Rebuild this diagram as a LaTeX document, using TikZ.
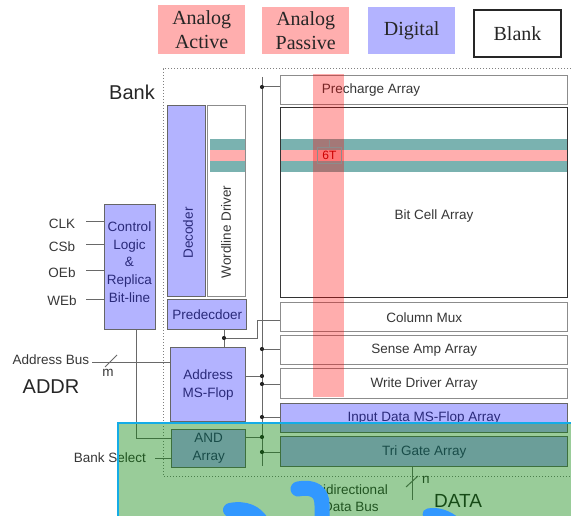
\documentclass[tikz,border=0pt]{standalone}
\usepackage{fontspec}
\setmainfont{Liberation Sans}
\newfontfamily\legfont{Liberation Serif}
\definecolor{lav}{RGB}{179,179,255}
\definecolor{pinkc}{RGB}{255,174,174}
\definecolor{tealc}{RGB}{122,178,176}
\definecolor{navy}{RGB}{42,42,122}
\definecolor{txt}{RGB}{55,55,55}
\definecolor{wirec}{RGB}{105,105,105}
\definecolor{cyanb}{RGB}{20,172,230}
\definecolor{blobc}{RGB}{50,152,255}
\tikzset{
  box/.style={draw=black!45, line width=1.4pt, fill=white, inner sep=0pt, anchor=north west,
    font=\fontsize{13.5}{16}\selectfont, text=txt},
  dig/.style={box, fill=lav, draw=black!60, text=navy},
  legbox/.style={inner sep=0pt, anchor=north west, align=center,
    font=\legfont\fontsize{20}{23.5}\selectfont, text=black!85},
  wire/.style={draw=wirec, line width=1pt},
  jdot/.style={circle, fill=black!85, inner sep=0pt, minimum size=4.2pt},
  lbl/.style={font=\fontsize{13.5}{16}\selectfont, text=txt, inner sep=0pt},
  big/.style={font=\fontsize{20}{24}\selectfont, text=black!85, inner sep=0pt},
  brush/.style={draw=blobc, line cap=round, line join=round}
}
\begin{document}
\begin{tikzpicture}[x=1pt,y=-1pt]
\useasboundingbox (0,0) rectangle (571,516);

% legend
\node[legbox, fill=pinkc, minimum width=87pt, minimum height=49pt] (lgA) at (158,5) {Analog\\Active};
\node[legbox, fill=pinkc, minimum width=87pt, minimum height=47pt] (lgP) at (262,7) {Analog\\Passive};
\node[legbox, fill=lav, minimum width=87pt, minimum height=47pt] (lgD) at (368,7) {Digital};
\node[legbox, fill=white, draw=black!85, line width=2pt, minimum width=87pt, minimum height=47pt] (lgB) at (473,9) {Blank};

% bank outline
\draw[black!50, line width=1pt, dotted] (571,69) -- (163,69) -- (163,476) -- (571,476);
\node[big] (bank) at (132,92) {Bank};

% column-side arrays
\node[box, minimum width=287pt, minimum height=29pt] (pre) at (280,75) {};
\node[lbl] (pretxt) at (371,90) {Precharge Array};
\node[box, draw=black!80, minimum width=287pt, minimum height=190pt] (bca) at (280,107) {};
\node[lbl] (bcatxt) at (434,216) {Bit Cell Array};
\node[box, minimum width=287pt, minimum height=29pt] (cmux) at (280,302) {Column Mux};
\node[box, minimum width=287pt, minimum height=29pt] (samp) at (280,335) {Sense Amp Array};
\node[box, minimum width=287pt, minimum height=30pt] (wdrv) at (280,368) {Write Driver Array};
\node[dig, minimum width=287pt, minimum height=29pt] (idff) at (280,403) {Input Data MS-Flop Array};
\node[dig, minimum width=287pt, minimum height=30pt] (tri) at (280,436) {Tri Gate Array};

% row-side blocks
\node[dig, minimum width=38pt, minimum height=191pt] (dec) at (167,105) {};
\node[lbl, text=navy, rotate=90] (dectxt) at (188,233) {Decoder};
\node[box, minimum width=38pt, minimum height=191pt] (wld) at (207,105) {};
\node[dig, minimum width=79pt, minimum height=30pt] (pred) at (167,299) {Predecdoer};
\node[dig, align=center, minimum width=51pt, minimum height=125pt,
  font=\fontsize{13.5}{17.7}\selectfont] (ctrl) at (104,204) {};
\node[lbl, text=navy, align=center, font=\fontsize{13.5}{17.7}\selectfont] (ctrltxt) at (129.5,262)
  {Control\\Logic\\\&\\Replica\\Bit-line};
\node[dig, align=center, minimum width=75pt, minimum height=74pt,
  font=\fontsize{13.5}{18}\selectfont] (amsf) at (170,347) {Address\\MS-Flop};
\node[dig, align=center, minimum width=74pt, minimum height=38pt,
  font=\fontsize{13.5}{18}\selectfont] (andA) at (171,429) {AND\\Array};

% word line stripes
\fill[tealc] (210,139) rectangle (245,150);
\fill[pinkc] (210,150) rectangle (245,161);
\fill[tealc] (210,161) rectangle (245,172);
\fill[tealc] (281,139) rectangle (567,150);
\fill[pinkc] (281,150) rectangle (567,161);
\fill[tealc] (281,161) rectangle (567,172);
\node[lbl, rotate=90] (wldtxt) at (226,232) {Wordline Driver};

% bit line column
\fill[red, opacity=0.32] (313,74) rectangle (344,397);
\draw[black!45, line width=0.6pt] (329,140) -- (329,147);
\node[draw=black!45, line width=0.8pt, inner sep=0pt, minimum width=24pt, minimum height=16pt,
  anchor=north west, text=red!80!black, font=\fontsize{12}{14}\selectfont] (six) at (317,147) {6T};

% inputs of the control block
\node[lbl] (clk) at (62,224) {CLK};
\node[lbl] (csb) at (62,247) {CSb};
\node[lbl] (oeb) at (62,273) {OEb};
\node[lbl] (web) at (62,301) {WEb};
\coordinate (iclk) at (86,222);
\coordinate (icsb) at (86,245);
\coordinate (ioeb) at (86,271);
\coordinate (iweb) at (86,299);
\foreach \p in {iclk,icsb,ioeb,iweb} \draw[wire] (\p) -- (ctrl.west |- \p);

% address and bank select inputs
\node[lbl] (abus) at (51,360) {Address Bus};
\node[big] (addr) at (51,387) {ADDR};
\coordinate (abusE) at (92,362);
\draw[wire] (abusE) -- (amsf.west |- abusE);
\draw[wire] (105,367) -- (117,355);
\node[lbl] (mlab) at (108,373) {m};
\node[lbl] (bsel) at (110,458) {Bank Select};
\coordinate (bselE) at (155,458);
\draw[wire] (bselE) -- (andA.west |- bselE);

% control to AND array
\coordinate (cbend) at (136,438);
\draw[wire] (ctrl.south -| cbend) -- (cbend) -- (andA.west |- cbend);

% predecoder to address flop and column mux
\coordinate (pj) at (224,338);
\coordinate (pbend) at (257,320);
\coordinate (cmIn) at (280,320);
\draw[wire] (pred.south -| pj) -- (amsf.north -| pj);
\draw[wire] (pj) -| (pbend) -- (cmIn);
\node[jdot] (pjd) at (pj) {};

% vertical bus
\coordinate (busT) at (262,77);
\coordinate (busB) at (262,466);
\draw[wire] (busT) -- (busB);
\coordinate (j1) at (262,87);
\coordinate (j2) at (262,349);
\coordinate (j3) at (262,376);
\coordinate (j4) at (262,384);
\coordinate (j5) at (262,417);
\coordinate (j6) at (262,437);
\coordinate (j7) at (262,452);
\draw[wire] (j1) -- (pre.west |- j1);
\draw[wire] (j2) -- (samp.west |- j2);
\draw[wire] (amsf.east |- j3) -- (j3);
\draw[wire] (j4) -- (wdrv.west |- j4);
\draw[wire] (j5) -- (idff.west |- j5);
\draw[wire] (andA.east |- j6) -- (j6);
\draw[wire] (j7) -- (tri.west |- j7);
\foreach \j in {j1,j2,j3,j4,j5,j6,j7} \node[jdot] at (\j) {};

% data bus
\coordinate (dbE) at (412,500);
\draw[wire] (tri.south -| dbE) -- (dbE);
\draw[wire] (406,487) -- (418,476);
\node[lbl] (nlab) at (426,480) {n};
\node[lbl, align=center, font=\fontsize{13.5}{17}\selectfont] (dbus) at (351,498) {Bidirectional\\Data Bus};
\node[big, font=\fontsize{19}{22}\selectfont] (data) at (458,501) {DATA};

% highlighted region
\fill[green!50!black, opacity=0.4] (118,423) rectangle (575,520);
\draw[cyanb, line width=2pt] (575,423) -- (118,423) -- (118,520);

% brush strokes
\draw[brush, line width=15pt] (298,489) .. controls (314,486) and (322,492) .. (322,505) -- (322,520);
\draw[brush, line width=14pt] (230,510) .. controls (245,507) and (256,512) .. (262,522);
\draw[brush, line width=11pt] (428,514) .. controls (438,512) and (448,516) .. (455,522);
\end{tikzpicture}
\end{document}
